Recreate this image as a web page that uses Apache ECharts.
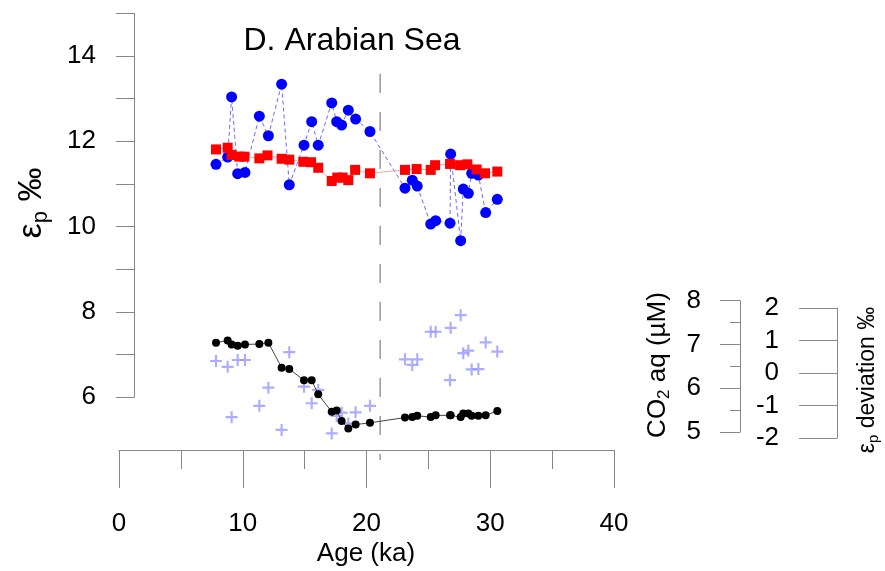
<!DOCTYPE html>
<html>
<head>
<meta charset="utf-8">
<script src="https://cdn.jsdelivr.net/npm/echarts@6/dist/echarts.min.js"></script>
<style>html,body{margin:0;padding:0;background:#fff}#c{width:885px;height:571px}</style>
</head>
<body>
<div id="c"></div>
<script>
// ---- data ----
const TITLE = 'D. Arabian Sea';
const X_TITLE = 'Age (ka)';
const LEFT_LABELS = [6, 8, 10, 12, 14];

// red squares: epsilon_p (line)
const RED_AGE = [7.84, 8.78, 9.10, 9.72, 10.13, 11.34, 12.0, 13.14, 13.76, 14.89, 15.52, 16.1, 17.19, 17.64, 18.07, 18.53, 19.08, 20.28, 23.11, 24.05, 25.19, 25.54, 26.75, 27.56, 28.15, 28.9, 29.58, 30.57];
const RED_EP = [11.81, 11.85, 11.68, 11.64, 11.64, 11.60, 11.67, 11.59, 11.57, 11.52, 11.51, 11.38, 11.07, 11.15, 11.15, 11.09, 11.33, 11.25, 11.33, 11.35, 11.33, 11.44, 11.47, 11.44, 11.46, 11.34, 11.25, 11.29];

// samples (blue circles, black CO2, crosses share ages)
const AGE = [7.84, 8.78, 9.10, 9.59, 10.18, 11.34, 12.07, 13.14, 13.76, 14.95, 15.57, 16.1, 17.19, 17.59, 17.99, 18.53, 19.12, 20.28, 23.11, 23.7, 24.1, 25.19, 25.59, 26.75, 26.8, 27.61, 27.82, 28.23, 28.5, 29.04, 29.63, 30.57];
const BLUE_EP = [11.46, 11.63, 13.04, 11.24, 11.27, 12.59, 12.13, 13.34, 10.98, 11.91, 12.46, 11.91, 12.90, 12.46, 12.38, 12.73, 12.52, 12.23, 10.90, 11.09, 10.95, 10.06, 10.14, 10.08, 11.70, 9.67, 10.88, 10.78, 11.25, 11.21, 10.33, 10.64];
const CO2 = [7.04, 7.09, 7.00, 6.97, 7.00, 7.01, 7.04, 6.47, 6.44, 6.18, 6.18, 5.86, 5.46, 5.49, 5.25, 5.08, 5.17, 5.21, 5.33, 5.34, 5.37, 5.34, 5.38, 5.38, 5.38, 5.34, 5.42, 5.42, 5.37, 5.37, 5.38, 5.48];
const DEV = [0.37, 0.19, -1.36, 0.40, 0.40, -1.01, -0.45, -1.75, 0.64, -0.42, -0.93, -0.52, -1.86, -1.32, -1.22, -1.55, -1.21, -1.01, 0.42, 0.25, 0.42, 1.27, 1.27, -0.22, 1.39, 1.78, 0.61, 0.69, 0.11, 0.12, 0.94, 0.66];

// vertical dashed marker (age, from/to in epsilon units)
const LGM_AGE = 21.1;
const LGM_SPAN = [13.58, 4.53];

// ---- layout ----
const FONT = '"Liberation Sans", Arial, sans-serif';
const AX = '#888888';
const XL = 119, XW = 495;
const EP_TOP = 13.3, EP_H = 384;
const CO2_TOP = 300.7, CO2_H = 131.3;
const DEV_TOP = 308, DEV_H = 130;

const zip = (a, b) => a.map((v, i) => [v, b[i]]);
const hiddenX = g => ({type: 'value', gridIndex: g, min: 0, max: 40, show: false});
const hiddenY = (g, mn, mx) => ({type: 'value', gridIndex: g, min: mn, max: mx, show: false});
const lbl = (margin) => ({margin: margin, fontSize: 26, color: '#000', fontFamily: FONT});

const PLUS = 'path://M4.1,0H5.9V4.1H10V5.9H5.9V10H4.1V5.9H0V4.1H4.1Z';

const chart = echarts.init(document.getElementById('c'), null, {renderer: 'canvas'});
chart.setOption({
  animation: false,
  backgroundColor: '#fff',
  grid: [
    {left: XL, top: EP_TOP, width: XW, height: EP_H},
    {left: XL, top: CO2_TOP, width: XW, height: CO2_H},
    {left: XL, top: DEV_TOP, width: XW, height: DEV_H},
    {left: XL, top: 440, width: XW, height: 10},
    {left: 134, top: EP_TOP, width: 10, height: EP_H},
    {left: 740, top: CO2_TOP, width: 10, height: CO2_H},
    {left: 837, top: DEV_TOP, width: 10, height: DEV_H}
  ],
  xAxis: [
    hiddenX(0), hiddenX(1), hiddenX(2),
    {type: 'value', gridIndex: 3, min: 0, max: 40, interval: 10, position: 'bottom',
     axisLine: {show: true, lineStyle: {color: AX, width: 1}},
     axisTick: {show: true, length: 38, lineStyle: {color: AX, width: 1}},
     minorTick: {show: true, splitNumber: 2, length: 19, lineStyle: {color: AX, width: 1}},
     splitLine: {show: false}, minorSplitLine: {show: false},
     axisLabel: lbl(61)},
    hiddenX(4), hiddenX(5), hiddenX(6)
  ],
  yAxis: [
    hiddenY(0, 6, 15), hiddenY(1, 5, 8), hiddenY(2, -2, 2), hiddenY(3, 0, 1),
    {type: 'value', gridIndex: 4, min: 6, max: 15, interval: 1, position: 'left',
     axisLine: {show: true, lineStyle: {color: AX, width: 1}},
     axisTick: {show: true, length: 18, lineStyle: {color: AX, width: 1}},
     splitLine: {show: false},
     axisLabel: Object.assign(lbl(38), {formatter: v => LEFT_LABELS.includes(v) ? String(v) : ''})},
    {type: 'value', gridIndex: 5, min: 5, max: 8, interval: 1, position: 'left',
     axisLine: {show: true, lineStyle: {color: AX, width: 1}},
     axisTick: {show: true, length: 20, lineStyle: {color: AX, width: 1}},
     minorTick: {show: true, splitNumber: 2, length: 10, lineStyle: {color: AX, width: 1}},
     splitLine: {show: false}, minorSplitLine: {show: false},
     axisLabel: lbl(39)},
    {type: 'value', gridIndex: 6, min: -2, max: 2, interval: 1, position: 'left',
     axisLine: {show: true, lineStyle: {color: AX, width: 1}},
     axisTick: {show: true, length: 38, lineStyle: {color: AX, width: 1}},
     splitLine: {show: false},
     axisLabel: lbl(58)}
  ],
  series: [
    {type: 'scatter', xAxisIndex: 2, yAxisIndex: 2, data: zip(AGE, DEV),
     symbol: PLUS, symbolSize: 12, itemStyle: {color: '#9999ff'}, z: 1},
    {type: 'line', xAxisIndex: 1, yAxisIndex: 1, data: zip(AGE, CO2),
     symbol: 'circle', symbolSize: 8, itemStyle: {color: '#000'},
     lineStyle: {color: '#444', width: 1}, z: 2},
    {type: 'line', xAxisIndex: 0, yAxisIndex: 0, data: zip(AGE, BLUE_EP),
     symbol: 'circle', symbolSize: 11, itemStyle: {color: '#0000ff'},
     lineStyle: {color: '#6a6aff', width: 1, type: [4, 3]}, z: 3},
    {type: 'line', xAxisIndex: 0, yAxisIndex: 0, data: zip(RED_AGE, RED_EP),
     symbol: 'rect', symbolSize: 10, itemStyle: {color: '#ff0000'},
     lineStyle: {color: '#f2a6a6', width: 1}, z: 4},
    {type: 'line', xAxisIndex: 0, yAxisIndex: 0, clip: false,
     data: [[LGM_AGE, LGM_SPAN[0]], [LGM_AGE, LGM_SPAN[1]]],
     symbol: 'none', lineStyle: {color: '#666', width: 1, type: [19, 19]}, z: 1}
  ],
  graphic: [
    {type: 'text', x: 352, y: 41, style: {text: TITLE, fontSize: 32, fontFamily: FONT, fill: '#000', align: 'center', verticalAlign: 'middle'}},
    {type: 'text', x: 366, y: 554, style: {text: X_TITLE, fontSize: 26, fontFamily: FONT, fill: '#000', align: 'center', verticalAlign: 'middle'}},
    {type: 'text', x: 31.5, y: 203, rotation: Math.PI / 2,
     style: {text: '{m|ε}{s|p}{m| ‰}', align: 'center', verticalAlign: 'middle', fill: '#000',
       rich: {m: {fontSize: 34, fontFamily: FONT, lineHeight: 40, fill: '#000'},
              s: {fontSize: 22, fontFamily: FONT, lineHeight: 14, verticalAlign: 'bottom', fill: '#000'}}}},
    {type: 'text', x: 658, y: 365, rotation: Math.PI / 2,
     style: {text: '{m|CO}{s|2}{m| aq (µM)}', align: 'center', verticalAlign: 'middle', fill: '#000',
       rich: {m: {fontSize: 26, fontFamily: FONT, lineHeight: 30, fill: '#000'},
              s: {fontSize: 17, fontFamily: FONT, lineHeight: 10, verticalAlign: 'bottom', fill: '#000'}}}},
    {type: 'text', x: 868, y: 380, rotation: Math.PI / 2,
     style: {text: '{m|ε}{s|p}{m| deviation ‰}', align: 'center', verticalAlign: 'middle', fill: '#000',
       rich: {m: {fontSize: 23, fontFamily: FONT, lineHeight: 27, fill: '#000'},
              s: {fontSize: 15, fontFamily: FONT, lineHeight: 9, verticalAlign: 'bottom', fill: '#000'}}}}
  ]
});
</script>
</body>
</html>
